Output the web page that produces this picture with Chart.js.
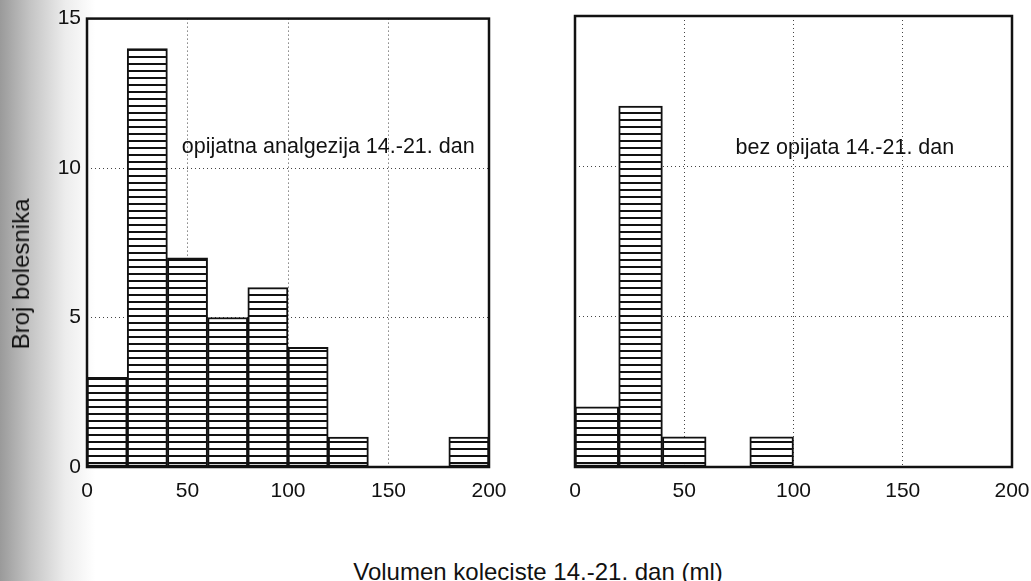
<!DOCTYPE html>
<html><head><meta charset="utf-8">
<script src="https://cdn.jsdelivr.net/npm/chart.js@4/dist/chart.umd.min.js"></script>
<style>
html,body{margin:0;padding:0;}
body{width:1031px;height:581px;position:relative;overflow:hidden;
background:linear-gradient(to right,#9a9a9a 0px,#c4c4c4 30px,#ececec 65px,#ffffff 95px);}
#c1{position:absolute;left:0;top:0;}
#c2{position:absolute;left:540px;top:0;}
#xt{position:absolute;left:338px;width:400px;top:558px;text-align:center;font:24px 'Liberation Sans',Arial,sans-serif;color:#111;white-space:nowrap;}
#yt{position:absolute;left:21px;top:274px;transform:translate(-50%,-50%) rotate(-90deg);font:24px 'Liberation Sans',Arial,sans-serif;color:#111;white-space:nowrap;}
</style></head><body>
<canvas id="c1" width="540" height="510"></canvas>
<canvas id="c2" width="510" height="510"></canvas>
<div id="xt">Volumen koleciste 14.-21. dan (ml)</div>
<div id="yt">Broj bolesnika</div>
<script>
const binCenters = [10,30,50,70,90,110,130,150,170,190];
const opijatna = [3,14,7,5,6,4,1,0,0,1];
const bezOpijata = [2,12,1,0,1,0,0,0,0,0];
const xTicks = [0,50,100,150,200];
const yTicks = [0,5,10,15];
const labelLeft = 'opijatna analgezija 14.-21. dan';
const labelRight = 'bez opijata 14.-21. dan';

function hatch(){
  const c=document.createElement('canvas');c.width=8;c.height=7;
  const g=c.getContext('2d');g.fillStyle='#fff';g.fillRect(0,0,8,7);
  g.fillStyle='#111';g.fillRect(0,0,8,2);
  return g.createPattern(c,'repeat');
}
const tickFont={family:"'Liberation Sans',Arial,sans-serif",size:21};

function makeChart(id,values,label,lx,ly,opts){
  const pts=binCenters.map((x,i)=>({x:x,y:values[i]===0?null:values[i]}));
  const frame={id:'frame',
    afterDatasetsDraw(ch){
      const a=ch.chartArea,g=ch.ctx;g.save();g.strokeStyle='#111';g.lineWidth=2.5;
      g.strokeRect(a.left,a.top,a.right-a.left,a.bottom-a.top);
      g.fillStyle='#111';g.font="21.5px 'Liberation Sans',Arial,sans-serif";
      g.textAlign='center';g.textBaseline='middle';
      g.fillText(label,ch.scales.x.getPixelForValue(lx),ch.scales.y.getPixelForValue(ly));
      g.restore();
    }};
  return new Chart(document.getElementById(id),{
    type:'bar',
    data:{datasets:[{data:pts,backgroundColor:hatch(),borderColor:'#111',borderWidth:2,borderSkipped:false,
      barPercentage:1,categoryPercentage:1}]},
    options:{responsive:false,animation:false,
      layout:{padding:opts.padding},
      plugins:{legend:{display:false},tooltip:{enabled:false}},
      scales:{
        x:{type:'linear',min:0,max:200,offset:false,afterBuildTicks(s){s.ticks=xTicks.map(v=>({value:v}));},
          grid:{color:'#444',lineWidth:1,drawTicks:false,offset:false},border:{display:false,dash:[1,3]},
          ticks:{color:'#111',font:tickFont,padding:12},
          afterFit(s){s.height=43;}},
        y:{min:0,max:15,afterBuildTicks(s){s.ticks=yTicks.map(v=>({value:v}));},
          grid:{color:'#444',lineWidth:1,drawTicks:false},border:{display:false,dash:[1,3]},
          ticks:{display:opts.yLabels,color:'#111',font:tickFont,padding:6},
          afterFit(s){s.width=opts.yWidth;}}
      }},
    plugins:[frame]});
}
makeChart('c1',opijatna,labelLeft,120,10.7,{padding:{left:0,right:51,top:5,bottom:0},yLabels:true,yWidth:87});
makeChart('c2',bezOpijata,labelRight,123.5,10.6,{padding:{left:0,right:38,top:16,bottom:0},yLabels:false,yWidth:35});
</script>
</body></html>
